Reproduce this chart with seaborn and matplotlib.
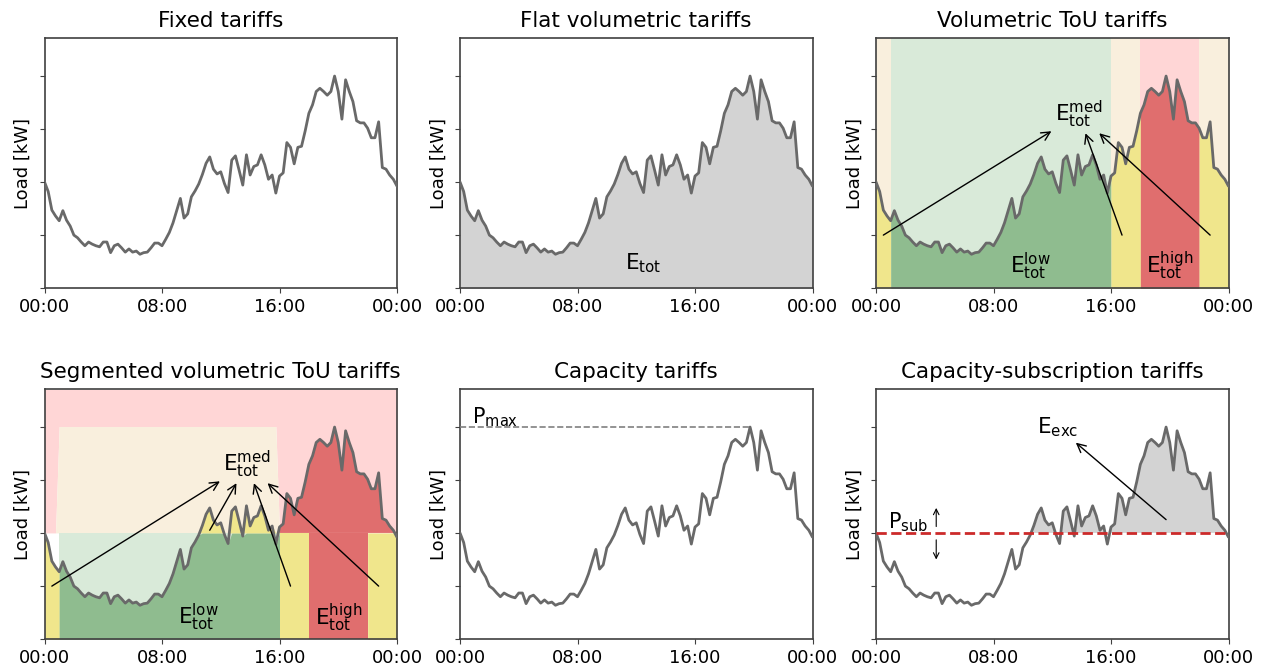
import numpy as np
import matplotlib
matplotlib.use("Agg")
import matplotlib.pyplot as plt
import seaborn as sns

# Daily household load profile, 15-minute resolution (00:00 .. 24:00)
hours = np.arange(97) * 0.25
load = np.array([
    2.00, 1.82, 1.47, 1.36, 1.27, 1.46, 1.28, 1.17, 1.00, 0.95,
    0.87, 0.80, 0.87, 0.83, 0.80, 0.78, 0.87, 0.87, 0.67, 0.80,
    0.83, 0.76, 0.68, 0.74, 0.68, 0.70, 0.64, 0.67, 0.68, 0.76,
    0.85, 0.85, 0.80, 0.92, 1.05, 1.23, 1.46, 1.69, 1.32, 1.40,
    1.72, 1.83, 1.96, 2.14, 2.35, 2.47, 2.24, 2.15, 2.19, 1.97,
    1.80, 2.41, 2.49, 2.22, 1.94, 2.51, 2.13, 2.29, 2.32, 2.51,
    2.32, 2.05, 2.13, 1.79, 2.11, 2.17, 2.74, 2.65, 2.34, 2.65,
    2.67, 2.96, 3.29, 3.45, 3.70, 3.76, 3.70, 3.63, 3.70, 3.99,
    3.70, 3.18, 3.92, 3.70, 3.51, 3.15, 3.11, 3.11, 3.01, 2.83,
    2.83, 3.13, 2.27, 2.24, 2.13, 2.05, 1.92,
])

tick_hours = [0, 8, 16, 24]
tick_labels = ["00:00", "08:00", "16:00", "00:00"]
load_ticks = [0, 1, 2, 3, 4]

titles = [
    "Fixed tariffs",
    "Flat volumetric tariffs",
    "Volumetric ToU tariffs",
    "Segmented volumetric ToU tariffs",
    "Capacity tariffs",
    "Capacity-subscription tariffs",
]

# Time-of-use periods: (start hour, end hour, price level)
tou_start = [0, 1, 16, 18, 22]
tou_end = [1, 16, 18, 22, 24]
tou_level = ["med", "low", "med", "high", "med"]

# Segmented tariff: power thresholds [kW] of the low-price window
seg_low_start, seg_low_end = 1, 16
seg_threshold = 2.0
seg_cap = 4.0

# Subscribed capacity [kW]
p_sub = 2.0

fill_col = {"low": "#8fbc8f", "med": "#f0e68c", "high": "#e06e6e"}
back_col = {"low": "#d9ead9", "med": "#f9efdd", "high": "#ffd6d6"}
line_col = "dimgray"
y_top = 4.7

sns.set_style("ticks")
plt.rcParams.update({
    "font.family": ["DejaVu Sans"],
    "axes.edgecolor": "0.25",
    "axes.linewidth": 1.2,
    "text.color": "black",
    "axes.labelcolor": "black",
    "xtick.color": "0.25",
    "ytick.color": "0.25",
    "xtick.labelcolor": "black",
    "xtick.labelsize": 13,
    "axes.labelsize": 13,
    "axes.titlesize": 15.5,
    "axes.titlepad": 8,
    "mathtext.default": "regular",
})

fig = plt.figure(figsize=(12.66, 6.71), dpi=100)
W, H = 1266, 671
col_left = [44.5, 460, 876]
row_bottom = [288.3, 639.3]
aw, ah = 352.5, 250
axes = []
for r in range(2):
    for c in range(3):
        axes.append(fig.add_axes([col_left[c] / W, 1 - row_bottom[r] / H, aw / W, ah / H]))


def base_axes(ax, title):
    sns.lineplot(x=hours, y=load, ax=ax, color=line_col, linewidth=2, zorder=4)
    ax.set_xlim(0, 24)
    ax.set_ylim(0, y_top)
    ax.set_xticks(tick_hours)
    ax.set_xticklabels(tick_labels)
    ax.set_yticks(load_ticks)
    ax.set_yticklabels([])
    ax.set_ylabel("Load [kW]", labelpad=2)
    ax.set_xlabel("")
    ax.set_title(title)


arrow_kw = dict(arrowstyle="<-", color="black", lw=1.0, shrinkA=0, shrinkB=0)


def multi_arrow_label(ax, text, pos, targets, size=15):
    # one visible label, arrows start at its bounding box
    for k, tgt in enumerate(targets):
        ax.annotate(text, xy=tgt, xytext=pos, ha="center", va="center",
                    fontsize=size, color="black" if k == 0 else (0, 0, 0, 0),
                    arrowprops=arrow_kw, zorder=5)


# 1) Fixed tariffs
base_axes(axes[0], titles[0])

# 2) Flat volumetric tariffs
ax = axes[1]
ax.fill_between(hours, 0, load, color="lightgray", lw=0, zorder=1)
base_axes(ax, titles[1])
ax.text(12.5, 0.48, r"$E_{tot}$", ha="center", va="center", fontsize=15.5)

# 3) Volumetric ToU tariffs
ax = axes[2]
for a, b, lvl in zip(tou_start, tou_end, tou_level):
    ax.axvspan(a, b, color=back_col[lvl], lw=0, zorder=0)
    m = (hours >= a) & (hours <= b)
    ax.fill_between(hours, 0, load, where=m, color=fill_col[lvl], lw=0, zorder=1)
base_axes(ax, titles[2])
ax.text(10.5, 0.42, r"$E^{low}_{tot}$", ha="center", va="center", fontsize=15.5)
ax.text(20.0, 0.42, r"$E^{high}_{tot}$", ha="center", va="center", fontsize=15.5)
multi_arrow_label(ax, r"$E^{med}_{tot}$", (13.8, 3.27),
                  [(0.5, 1.0), (16.75, 1.0), (22.75, 1.0)], size=15.5)

# 4) Segmented volumetric ToU tariffs
ax = axes[3]
low_win = (hours >= seg_low_start) & (hours < seg_low_end)
low_incl = (hours >= seg_low_start) & (hours <= seg_low_end)
band = np.where(low_win, seg_cap, seg_threshold)
ax.fill_between(hours, band, y_top, color=back_col["high"], lw=0, zorder=0)
ax.fill_between(hours, seg_threshold, band, color=back_col["med"], lw=0, zorder=0)
ax.fill_between(hours, 0, seg_threshold, where=low_incl, color=back_col["low"], lw=0, zorder=0)
below = np.minimum(load, seg_threshold)
above = np.maximum(load, seg_threshold)
for a, b, lvl in zip(tou_start, tou_end, tou_level):
    m = (hours >= a) & (hours <= b)
    ax.fill_between(hours, 0, below, where=m, color=fill_col[lvl], lw=0, zorder=1)
ax.fill_between(hours, seg_threshold, above, where=low_incl, color=fill_col["med"], lw=0, zorder=1)
ax.fill_between(hours, seg_threshold, above, where=(hours <= seg_low_start) | (hours >= seg_low_end),
                color=fill_col["high"], lw=0, zorder=1)
base_axes(ax, titles[3])
ax.text(10.5, 0.41, r"$E^{low}_{tot}$", ha="center", va="center", fontsize=15.5)
ax.text(20.0, 0.41, r"$E^{high}_{tot}$", ha="center", va="center", fontsize=15.5)
multi_arrow_label(ax, r"$E^{med}_{tot}$", (13.8, 3.29),
                  [(0.5, 1.0), (11.25, 2.05), (16.75, 1.0), (22.75, 1.0)], size=15.5)

# 5) Capacity tariffs
ax = axes[4]
i_max = int(np.argmax(load))
ax.hlines(load[i_max], 0, hours[i_max], colors="gray", linestyles="--", lw=1.2, zorder=3)
base_axes(ax, titles[4])
ax.text(2.4, 4.17, r"$P_{max}$", ha="center", va="center", fontsize=15)

# 6) Capacity-subscription tariffs
ax = axes[5]
ax.fill_between(hours, p_sub, load, where=load > p_sub, interpolate=True,
                color="lightgray", lw=0, zorder=1)
ax.axhline(p_sub, color="#cc2a2a", ls="--", lw=2, zorder=5)
base_axes(ax, titles[5])
ax.text(2.2, 2.2, r"$P_{sub}$", ha="center", va="center", fontsize=15)
small_arrow = dict(arrowstyle="->", color="black", lw=0.8, shrinkA=0, shrinkB=0)
ax.annotate("", xy=(4.1, 2.47), xytext=(4.1, 2.12), arrowprops=small_arrow)
ax.annotate("", xy=(4.1, 1.5), xytext=(4.1, 1.87), arrowprops=small_arrow)
ax.annotate(r"$E_{exc}$", xy=(19.75, 2.25), xytext=(12.4, 3.98), ha="center", va="center",
            fontsize=15.5, arrowprops=arrow_kw, zorder=5)

fig.savefig("out.png", dpi=100)
